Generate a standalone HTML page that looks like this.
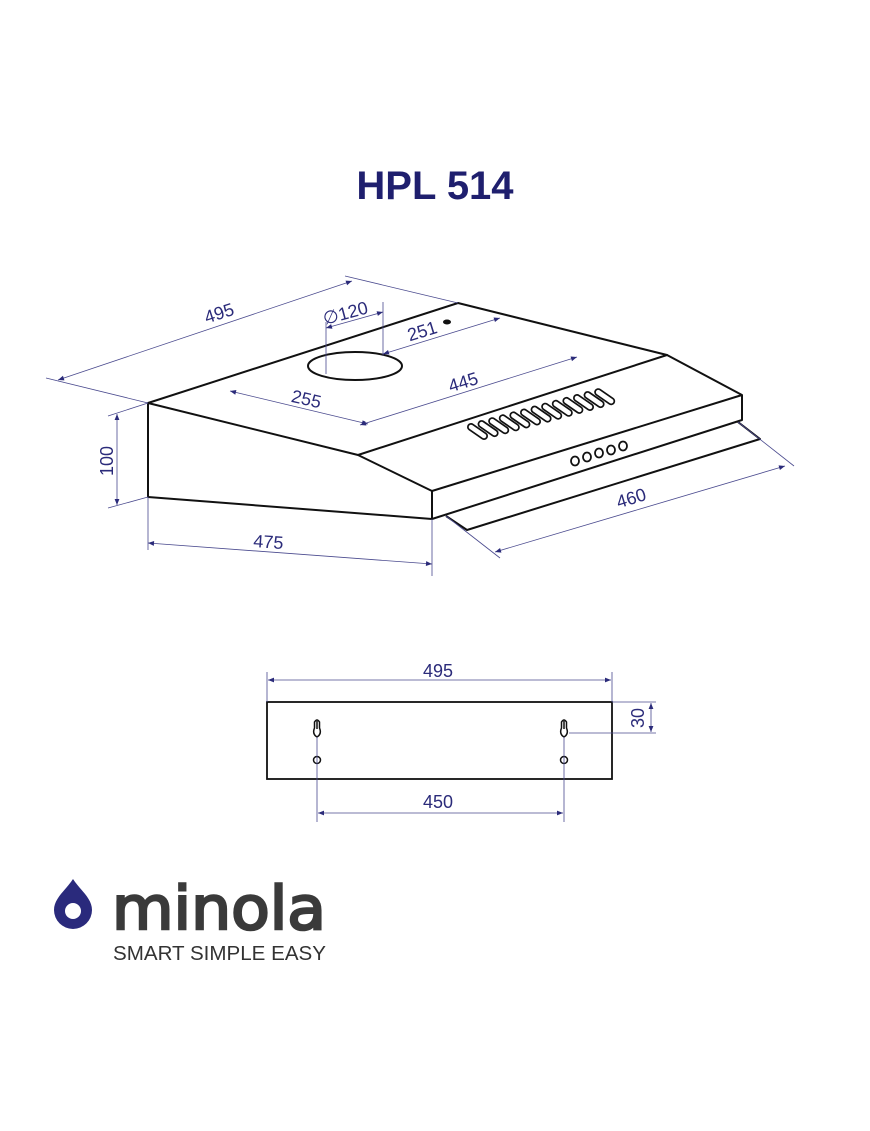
<!DOCTYPE html>
<html><head><meta charset="utf-8"><style>
html,body{margin:0;padding:0;background:#fff}
svg{display:block}
</style></head><body>
<svg width="870" height="1131" viewBox="0 0 870 1131" xmlns="http://www.w3.org/2000/svg">
<defs>
<marker id="ar" viewBox="0 0 10 10" refX="10" refY="5" markerWidth="9" markerHeight="6" orient="auto-start-reverse" markerUnits="userSpaceOnUse"><path d="M0,1 L10,5 L0,9 Z" fill="#2b2b7a"/></marker>
</defs>
<text x="435" y="199" text-anchor="middle" font-family="Liberation Sans, sans-serif" font-weight="bold" font-size="40" fill="#1f1f6e">HPL 514</text>

<!-- hood outline -->
<g fill="none" stroke="#111" stroke-width="2" stroke-linejoin="round">
<polygon points="148,403 458,303 667,355 358,455"/>
<polyline points="148,403 148,497 432,519 432,491 358,455"/>
<polyline points="667,355 742,395 742,420 432,519"/>
<line x1="432" y1="491" x2="742" y2="395"/>
<polyline points="446,516 467,530 760,439 738,422"/>
<ellipse cx="355" cy="366" rx="47" ry="14"/>
</g>
<ellipse cx="447" cy="322" rx="4" ry="2.5" fill="#111"/>
<!-- vents -->
<g fill="none">
<g id="slot"><line x1="471" y1="427" x2="484" y2="436" stroke="#111" stroke-width="8" stroke-linecap="round"/><line x1="471" y1="427" x2="484" y2="436" stroke="#fff" stroke-width="4.6" stroke-linecap="round"/></g>
<use href="#slot" transform="translate(10.6,-2.9)"/><use href="#slot" transform="translate(21.2,-5.8)"/><use href="#slot" transform="translate(31.8,-8.7)"/><use href="#slot" transform="translate(42.4,-11.6)"/><use href="#slot" transform="translate(53,-14.5)"/><use href="#slot" transform="translate(63.6,-17.4)"/><use href="#slot" transform="translate(74.2,-20.3)"/><use href="#slot" transform="translate(84.8,-23.2)"/><use href="#slot" transform="translate(95.4,-26.1)"/><use href="#slot" transform="translate(106,-29)"/><use href="#slot" transform="translate(116.6,-31.9)"/><use href="#slot" transform="translate(127.2,-34.8)"/>
</g>
<g fill="#fff" stroke="#111" stroke-width="1.8">
<ellipse cx="575" cy="461" rx="4" ry="4.5"/><ellipse cx="587" cy="457" rx="4" ry="4.5"/><ellipse cx="599" cy="453" rx="4" ry="4.5"/><ellipse cx="611" cy="450" rx="4" ry="4.5"/><ellipse cx="623" cy="446" rx="4" ry="4.5"/>
</g>

<!-- dimensions -->
<g stroke="#4a4a8e" stroke-width="0.8" fill="none">
<line x1="148" y1="403" x2="46" y2="378"/><line x1="458" y1="303" x2="345" y2="276"/>
<line x1="58" y1="380" x2="352" y2="281" marker-start="url(#ar)" marker-end="url(#ar)"/>
<line x1="148" y1="403" x2="108" y2="416"/><line x1="148" y1="497" x2="108" y2="508"/>
<line x1="117" y1="414" x2="117" y2="505" marker-start="url(#ar)" marker-end="url(#ar)"/>
<line x1="148" y1="497" x2="148" y2="550"/><line x1="432" y1="519" x2="432" y2="576"/>
<line x1="148" y1="543" x2="432" y2="564" marker-start="url(#ar)" marker-end="url(#ar)"/>
<line x1="446" y1="516" x2="500" y2="558"/><line x1="738" y1="422" x2="794" y2="466"/>
<line x1="495" y1="552" x2="785" y2="466" marker-start="url(#ar)" marker-end="url(#ar)"/>
<line x1="230" y1="391" x2="368" y2="424" marker-start="url(#ar)" marker-end="url(#ar)"/>
<line x1="360" y1="425" x2="577" y2="357" marker-start="url(#ar)" marker-end="url(#ar)"/>
<line x1="383" y1="354" x2="500" y2="318" marker-start="url(#ar)" marker-end="url(#ar)"/>
<line x1="326" y1="322" x2="326" y2="374"/><line x1="383" y1="302" x2="383" y2="356"/>
<line x1="326" y1="328" x2="383" y2="312" marker-start="url(#ar)" marker-end="url(#ar)"/>
</g>
<g font-family="Liberation Sans, sans-serif" font-size="18" fill="#2b2b7a" text-anchor="middle">
<text transform="translate(221,319) rotate(-18)">495</text>
<text transform="translate(113,461) rotate(-90)">100</text>
<text transform="translate(268,548) rotate(4)">475</text>
<text transform="translate(633,504) rotate(-17)">460</text>
<text transform="translate(305,405) rotate(13)">255</text>
<text transform="translate(465,388) rotate(-17)">445</text>
<text transform="translate(424,337) rotate(-17)">251</text>
<text transform="translate(347,319) rotate(-15)">∅120</text>
</g>

<!-- bottom view -->
<rect x="267" y="702" width="345" height="77" fill="none" stroke="#111" stroke-width="1.8"/>
<g fill="none" stroke="#111" stroke-width="1.5">
<path d="M317,721 L317,729 M314.5,728 Q312,734 317,737 Q322,734 319.5,728 L319.5,722 Q317,718 314.5,722 Z"/>
<path d="M564,721 L564,729 M561.5,728 Q559,734 564,737 Q569,734 566.5,728 L566.5,722 Q564,718 561.5,722 Z"/>
<circle cx="317" cy="760" r="3.5"/><circle cx="564" cy="760" r="3.5"/>
</g>
<g stroke="#4a4a8e" stroke-width="0.8" fill="none">
<line x1="267" y1="672" x2="267" y2="702"/><line x1="612" y1="672" x2="612" y2="702"/>
<line x1="268" y1="680" x2="611" y2="680" marker-start="url(#ar)" marker-end="url(#ar)"/>
<line x1="612" y1="702" x2="656" y2="702"/><line x1="569" y1="733" x2="656" y2="733"/>
<line x1="651" y1="703" x2="651" y2="732" marker-start="url(#ar)" marker-end="url(#ar)"/>
<line x1="317" y1="737" x2="317" y2="822"/><line x1="564" y1="737" x2="564" y2="822"/>
<line x1="318" y1="813" x2="563" y2="813" marker-start="url(#ar)" marker-end="url(#ar)"/>
</g>
<g font-family="Liberation Sans, sans-serif" font-size="18" fill="#2b2b7a" text-anchor="middle">
<text x="438" y="677">495</text>
<text x="438" y="808">450</text>
<text transform="translate(644,718) rotate(-90)">30</text>
</g>

<!-- logo -->
<path d="M73,879 C66,890 54,898 54,910 A19,19 0 0 0 92,910 C92,898 80,890 73,879 Z" fill="#2a2a7c"/>
<circle cx="73" cy="911" r="8" fill="#fff"/>
<text x="112" y="929" font-family="DejaVu Sans, Liberation Sans, sans-serif" font-size="60" fill="#3a3a3a" stroke="#3a3a3a" stroke-width="2.5" textLength="214" lengthAdjust="spacingAndGlyphs">minola</text>
<text x="113" y="960" font-family="Liberation Sans, sans-serif" font-size="20.5" fill="#333" textLength="213" lengthAdjust="spacingAndGlyphs">SMART SIMPLE EASY</text>
</svg>
</body></html>
